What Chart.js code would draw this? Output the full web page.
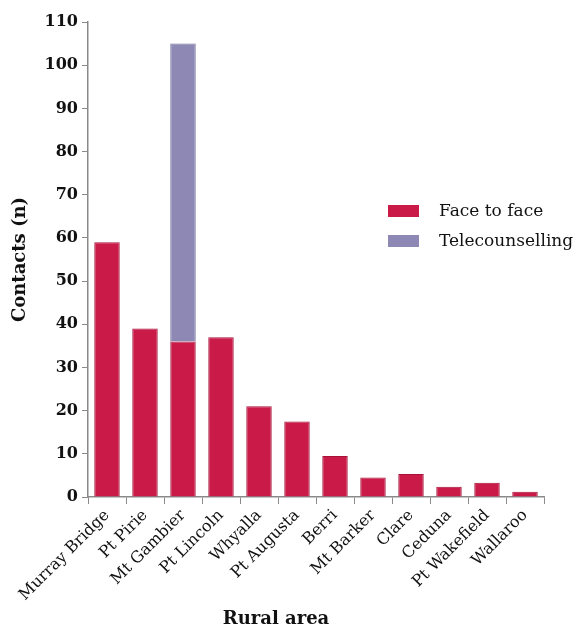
<!DOCTYPE html>
<html>
<head>
<meta charset="utf-8">
<script src="https://cdn.jsdelivr.net/npm/chart.js@4/dist/chart.umd.min.js"></script>
<style>
  html, body { margin: 0; padding: 0; background: #fff; }
  #wrap { width: 588px; height: 634px; }
</style>
</head>
<body>
<div id="wrap"><canvas id="chart" width="588" height="634"></canvas></div>
<script>
const areas = ['Murray Bridge', 'Pt Pirie', 'Mt Gambier', 'Pt Lincoln', 'Whyalla', 'Pt Augusta',
               'Berri', 'Mt Barker', 'Clare', 'Ceduna', 'Pt Wakefield', 'Wallaroo'];
const faceToFace = [59, 39, 36, 37, 21, 17.5, 9.5, 4.5, 5.3, 2.4, 3.3, 1.2];
const telecounselling = [null, null, 69, null, null, null, null, null, null, null, null, null];
const yTicks = [0, 10, 20, 30, 40, 50, 60, 70, 80, 90, 100, 110];
const xTitle = 'Rural area';

const serif = '"DejaVu Serif", "Liberation Serif", serif';
const axisGray = '#8a8a8a';

// legend inside the plot next to the tall bar, x-axis title drawn slightly left of centre
const extras = {
    id: 'extras',
    afterDraw(chart) {
        const ctx = chart.ctx;
        ctx.save();
        ctx.font = '17px ' + serif;
        ctx.textBaseline = 'middle';
        chart.data.datasets.forEach((ds, i) => {
            const y = 211 + i * 30;
            ctx.fillStyle = ds.backgroundColor;
            ctx.fillRect(388, y - 6, 31, 12);
            ctx.fillStyle = '#111';
            ctx.fillText(ds.label, 439, y + 1);
        });
        ctx.font = 'bold 18px ' + serif;
        ctx.textAlign = 'center';
        ctx.fillText(xTitle, 276, 619);
        ctx.restore();
    }
};

new Chart(document.getElementById('chart'), {
    type: 'bar',
    data: {
        labels: areas,
        datasets: [
            {
                label: 'Face to face',
                data: faceToFace,
                backgroundColor: '#c91a48',
                borderColor: '#a81239',
                borderWidth: 1,
                barPercentage: 0.67,
                categoryPercentage: 1
            },
            {
                label: 'Telecounselling',
                data: telecounselling,
                backgroundColor: '#8d89b4',
                borderColor: '#6f6b99',
                borderWidth: 1,
                barPercentage: 0.67,
                categoryPercentage: 1
            }
        ]
    },
    options: {
        responsive: false,
        animation: false,
        layout: { padding: { top: 22, right: 44, left: 8, bottom: 4 } },
        plugins: {
            legend: { display: false },
            tooltip: { enabled: false }
        },
        scales: {
            x: {
                stacked: true,
                grid: { display: true, drawOnChartArea: false, drawTicks: true, tickLength: 7, color: axisGray },
                border: { color: axisGray, width: 1.5 },
                ticks: {
                    color: '#111',
                    font: { family: serif, size: 16 },
                    minRotation: 45,
                    maxRotation: 45,
                    padding: 2
                },
                afterFit: s => { s.height = 133; }
            },
            y: {
                stacked: true,
                min: 0,
                max: 110,
                afterBuildTicks: s => { s.ticks = yTicks.map(v => ({ value: v })); },
                grid: { display: true, drawOnChartArea: false, drawTicks: true, tickLength: 6, color: axisGray },
                border: { color: axisGray, width: 1.5 },
                ticks: {
                    color: '#111',
                    font: { family: serif, size: 16, weight: 'bold' },
                    padding: 4
                },
                title: {
                    display: true,
                    text: 'Contacts (n)',
                    color: '#111',
                    font: { family: serif, size: 18, weight: 'bold' },
                    padding: { top: 2, bottom: 4 }
                },
                afterFit: s => { s.width = 80; }
            }
        }
    },
    plugins: [extras]
});
</script>
</body>
</html>
